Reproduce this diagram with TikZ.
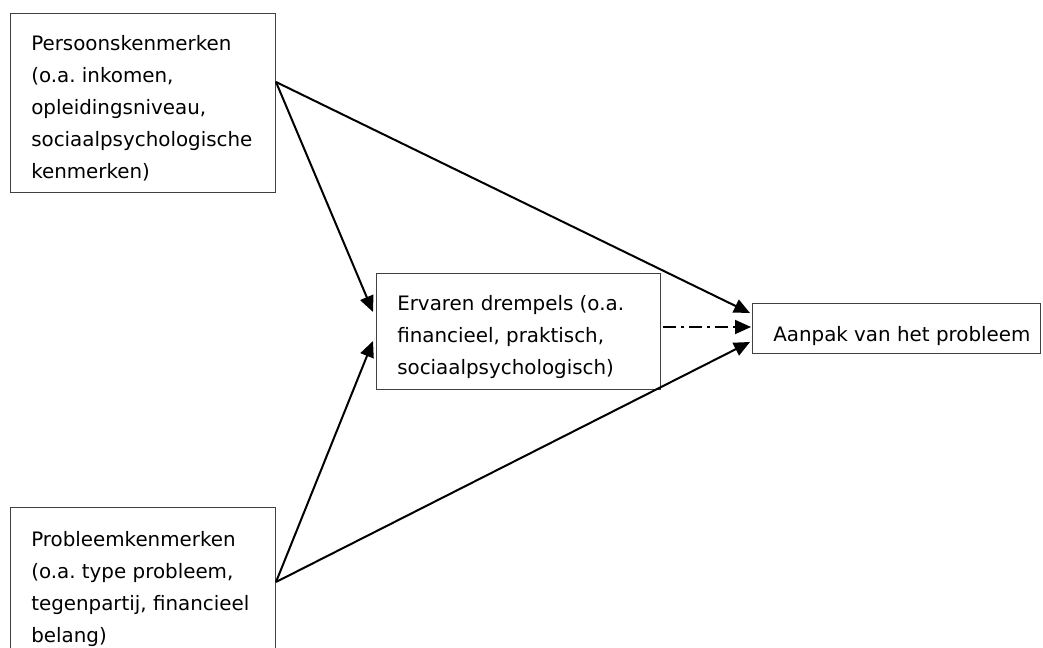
\documentclass[tikz,border=0pt]{standalone}
\usepackage{fontspec}
\setmainfont{DejaVu Sans}
\usetikzlibrary{arrows.meta}
\begin{document}
\begin{tikzpicture}[x=0.75pt,y=-0.75pt,
  box/.style={draw=black!75,line width=0.75pt,rectangle,anchor=north west,inner sep=0pt},
  txt/.style={anchor=north west,inner sep=0pt,align=left,font=\fontsize{14.9}{24}\selectfont\frenchspacing},
  arr/.style={line width=1.5pt,-{Triangle[length=12pt,width=10.5pt]}},
  dashdot/.style={arr,dash pattern=on 9.75pt off 3.75pt on 2.25pt off 3.75pt}
]
\clip (0,0) rectangle (1043,648);
\useasboundingbox (0,0) rectangle (1043,648);
% boxes
\node[box,minimum width=198.75pt,minimum height=134.25pt] (A) at (10,13) {};
\node[box,minimum width=213pt,minimum height=87pt] (B) at (376,273) {};
\node[box,minimum width=216pt,minimum height=37.5pt] (C) at (752,303) {};
\node[box,minimum width=198.75pt,minimum height=112.5pt] (D) at (10,507) {};
% texts
\node[txt] (At) at (31,30) {\rule{0pt}{15pt}Persoonskenmerken\\(o.a. inkomen,\\opleidingsniveau,\\sociaalpsychologische\\kenmerken)};
\node[txt] (Bt) at (397,290) {\rule{0pt}{15pt}Ervaren drempels (o.a.\\financieel, praktisch,\\sociaalpsychologisch)};
\node[txt] (Ct) at (773,321.7) {\rule{0pt}{15pt}Aanpak van het probleem};
\node[txt] (Dt) at (31,526.7) {\rule{0pt}{15pt}Probleemkenmerken\\(o.a. type probleem,\\tegenpartij, financieel\\belang)};
% connectors
\draw[arr] ([yshift=-51.75pt]A.north east) -- ([xshift=-2.25pt,yshift=-29.25pt]B.north west);
\draw[arr] ([yshift=-51.75pt]A.north east) -- ([xshift=-1.5pt,yshift=-7.5pt]C.north west);
\draw[arr] ([yshift=-56.25pt]D.north east) -- ([xshift=-2.25pt,yshift=-51pt]B.north west);
\draw[arr] ([yshift=-56.25pt]D.north east) -- ([xshift=-1.5pt,yshift=-29.25pt]C.north west);
\draw[dashdot] ([xshift=1.5pt,yshift=-40.5pt]B.north east) -- ([xshift=-0.75pt,yshift=-18pt]C.north west);
\end{tikzpicture}
\end{document}
